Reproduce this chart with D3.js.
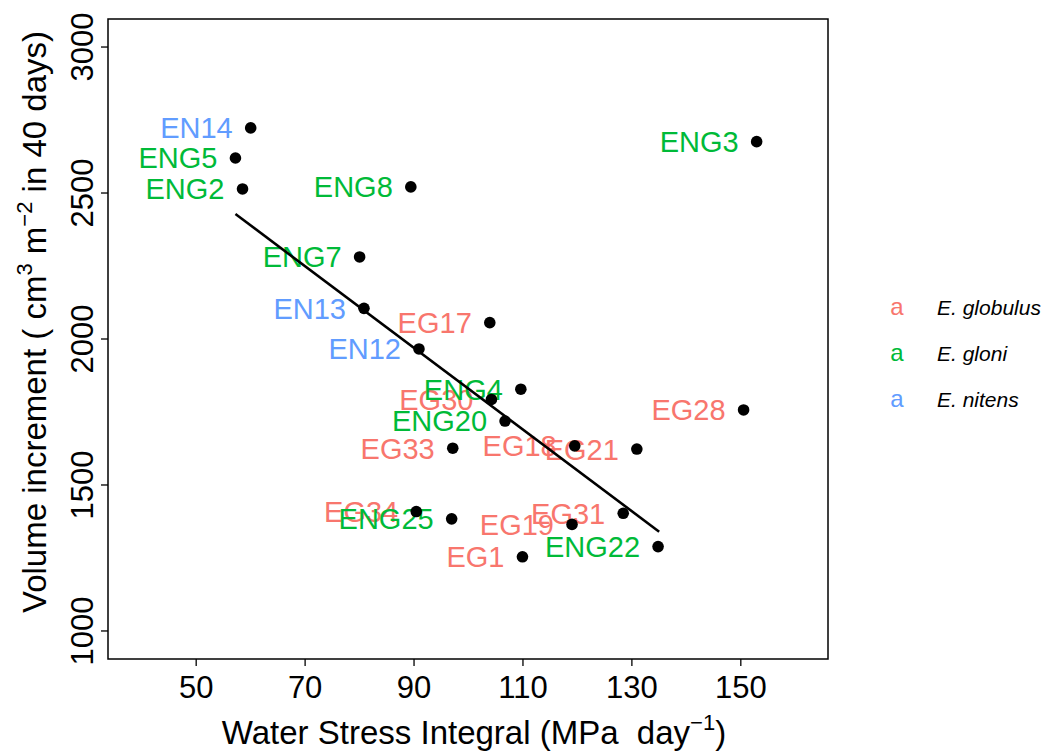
<!DOCTYPE html>
<html>
<head>
<meta charset="utf-8">
<script src="https://cdn.jsdelivr.net/npm/d3@7"></script>
<style>
  body { margin: 0; background: #fff; }
  text { font-family: "Liberation Sans", Arial, sans-serif; }
</style>
</head>
<body>
<svg id="chart"></svg>
<script>
// clone labels, water stress integral and volume increment
var labels = ['EG1','EG17','EG18','EG19','EG21','EG28','EG30','EG31','EG33','EG34',
              'ENG2','ENG3','ENG4','ENG5','ENG7','ENG8','ENG20','ENG22','ENG25',
              'EN12','EN13','EN14'];
var wsi    = [110.0, 104.0, 119.6, 119.1, 131.0, 150.6, 104.3, 128.5, 97.2, 90.5,
              58.6, 153.0, 109.7, 57.3, 80.1, 89.5, 106.8, 134.9, 97.0,
              91.0, 80.9, 60.1];
var volume = [1254, 2056, 1634, 1365, 1623, 1757, 1793, 1403, 1626, 1409,
              2514, 2676, 1828, 2620, 2281, 2521, 1719, 1289, 1384,
              1966, 2105, 2723];
var species = ['E. globulus','E. globulus','E. globulus','E. globulus','E. globulus',
               'E. globulus','E. globulus','E. globulus','E. globulus','E. globulus',
               'E. gloni','E. gloni','E. gloni','E. gloni','E. gloni','E. gloni',
               'E. gloni','E. gloni','E. gloni',
               'E. nitens','E. nitens','E. nitens'];

// fitted line end points
var fitX = [57.3, 135.1];
var fitY = [2428, 1340];

var speciesNames = ['E. globulus', 'E. gloni', 'E. nitens'];
var speciesColors = ['#F8766D', '#00BA38', '#619CFF'];

var xTicks = [50, 70, 90, 110, 130, 150];
var yTicks = [1000, 1500, 2000, 2500, 3000];

var width = 1049;
var height = 754;
var margin = { top: 19, right: 221, bottom: 95, left: 108 };

var svg = d3.select('#chart')
            .attr('width', width)
            .attr('height', height);

var xScale = d3.scaleLinear()
               .domain([33.9, 166.1])
               .range([margin.left, width - margin.right]);

var yScale = d3.scaleLinear()
               .domain([904, 3096])
               .range([height - margin.bottom, margin.top]);

var color = d3.scaleOrdinal().domain(speciesNames).range(speciesColors);

var data = labels.map(function(l, i){
  return { label: l, x: wsi[i], y: volume[i], sp: species[i] };
});

// axes
var xAxis = d3.axisBottom(xScale).tickValues(xTicks).tickSize(7).tickPadding(6);
var yAxis = d3.axisLeft(yScale).tickValues(yTicks).tickSize(7).tickFormat(d3.format('d'));

var gx = svg.append('g')
            .attr('transform', 'translate(0,' + (height - margin.bottom) + ')')
            .call(xAxis);
gx.select('.domain').remove();
gx.selectAll('line').attr('stroke', '#000').attr('stroke-width', 1.3);
gx.selectAll('text').attr('font-size', 31).attr('fill', '#000').attr('dy', '0.85em');

var gy = svg.append('g')
            .attr('transform', 'translate(' + margin.left + ',0)')
            .call(yAxis);
gy.select('.domain').remove();
gy.selectAll('line').attr('stroke', '#000').attr('stroke-width', 1.3);
gy.selectAll('.tick').attr('transform', null);
gy.selectAll('.tick line')
  .attr('transform', function(d){ return 'translate(0,' + yScale(d) + ')'; });
gy.selectAll('text')
  .attr('font-size', 31).attr('fill', '#000')
  .attr('text-anchor', 'middle')
  .attr('dy', null)
  .attr('x', null)
  .attr('y', 0)
  .attr('transform', function(d){ return 'translate(-15,' + yScale(d) + ') rotate(-90)'; });

// labels
svg.append('g').selectAll('text')
   .data(data)
   .enter().append('text')
   .attr('x', function(d){ return xScale(d.x) - 18; })
   .attr('y', function(d){ return yScale(d.y); })
   .attr('dy', '0.36em')
   .attr('text-anchor', 'end')
   .attr('font-size', 29)
   .attr('fill', function(d){ return color(d.sp); })
   .text(function(d){ return d.label; });

// points
svg.append('g').selectAll('circle')
   .data(data)
   .enter().append('circle')
   .attr('cx', function(d){ return xScale(d.x); })
   .attr('cy', function(d){ return yScale(d.y); })
   .attr('r', 5.8)
   .attr('fill', '#000');

// fitted line
svg.append('path')
   .datum(fitX.map(function(x, i){ return [x, fitY[i]]; }))
   .attr('fill', 'none')
   .attr('stroke', '#000')
   .attr('stroke-width', 2.6)
   .attr('d', d3.line()
            .x(function(d){ return xScale(d[0]); })
            .y(function(d){ return yScale(d[1]); }));

// panel box
svg.append('rect')
   .attr('x', margin.left)
   .attr('y', margin.top)
   .attr('width', width - margin.left - margin.right)
   .attr('height', height - margin.top - margin.bottom)
   .attr('fill', 'none')
   .attr('stroke', '#000')
   .attr('stroke-width', 1.5);

// axis titles
var xt = svg.append('text')
   .attr('x', 474)
   .attr('y', 744)
   .attr('text-anchor', 'middle')
   .attr('font-size', 33)
   .attr('fill', '#000');
xt.append('tspan').text('Water Stress Integral (MPa\u00a0\u00a0day');
xt.append('tspan').attr('font-size', 22).attr('dy', -14).text('\u22121');
xt.append('tspan').attr('dy', 14).text(')');

var yt = svg.append('text')
   .attr('transform', 'translate(46,322) rotate(-90)')
   .attr('text-anchor', 'middle')
   .attr('font-size', 33)
   .attr('fill', '#000');
yt.append('tspan').text('Volume increment ( cm');
yt.append('tspan').attr('font-size', 22).attr('dy', -14).text('3');
yt.append('tspan').attr('dy', 14).text(' m');
yt.append('tspan').attr('font-size', 22).attr('dy', -14).text('\u22122');
yt.append('tspan').attr('dy', 14).text(' in 40 days)');

// legend
var legend = svg.append('g');
var legY = d3.scalePoint().domain(speciesNames).range([315, 407]);
speciesNames.forEach(function(s){
  legend.append('text')
        .attr('x', 897).attr('y', legY(s))
        .attr('text-anchor', 'middle')
        .attr('font-size', 24)
        .attr('fill', color(s))
        .text('a');
  legend.append('text')
        .attr('x', 937).attr('y', legY(s))
        .attr('font-size', 21)
        .attr('font-style', 'italic')
        .attr('fill', '#000')
        .text(s);
});
</script>
</body>
</html>
